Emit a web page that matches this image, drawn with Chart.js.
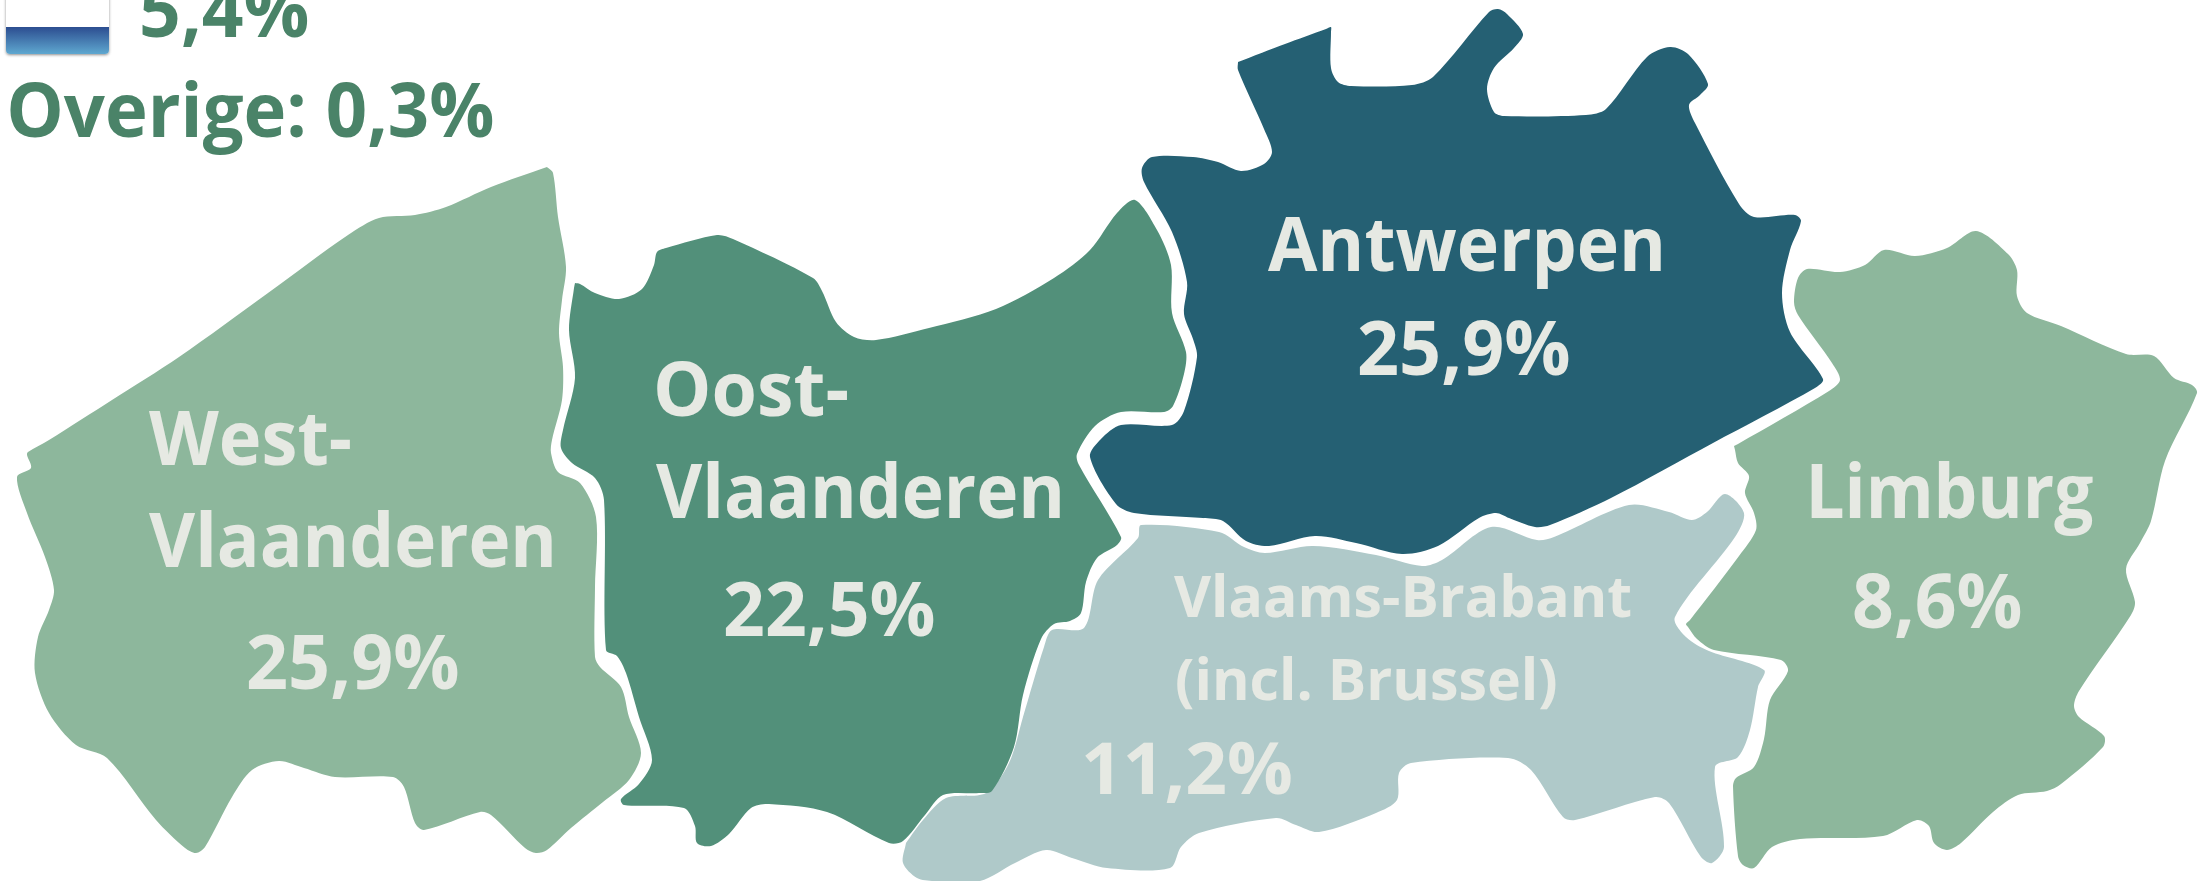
<!DOCTYPE html>
<html lang="nl">
<head>
    <meta charset="UTF-8">
    <title>Vlaamse provincies</title>
    <script src="https://cdn.jsdelivr.net/npm/chart.js"></script>
    <style>
        html, body { margin: 0; padding: 0; background: #fff; }
        canvas { display: block; }
    </style>
</head>
<body>
    <canvas id="mapChart" width="2211" height="881"></canvas>

    <script>
        const westVlaanderen = [[547,167],[553,173],[558,217],[566,267],[562,300],[559,333],[563,367],[562,400],[552,440],[551,453],[558,472],[580,483],[596,517],[595,587],[595,657],[600,667],[621,687],[629,717],[641,753],[629,780],[603,802],[571,828],[547,850],[536,853],[525,848],[491,815],[480,812],[424,830],[415,823],[404,787],[393,777],[335,777],[304,768],[279,761],[252,770],[232,797],[205,847],[196,853],[185,848],[156,820],[107,758],[76,745],[49,713],[35,673],[38,637],[49,610],[54,590],[45,557],[27,513],[17,477],[31,468],[27,455],[28,452],[49,440],[112,400],[179,357],[268,293],[348,235],[379,218],[415,215],[446,207],[491,187],[547,167]];
        const oostVlaanderen = [[575,283],[580,284],[595,293],[619,299],[642,289],[654,265],[657,252],[666,248],[717,235],[733,239],[813,278],[822,291],[836,322],[854,337],[876,340],[929,328],[996,309],[1054,278],[1090,250],[1117,213],[1135,200],[1157,230],[1171,265],[1172,313],[1186,352],[1184,374],[1173,406],[1164,412],[1121,412],[1095,426],[1077,454],[1079,465],[1121,537],[1117,545],[1097,558],[1086,582],[1081,613],[1070,621],[1054,624],[1041,639],[1023,695],[1014,747],[992,791],[979,793],[943,795],[925,815],[903,841],[889,843],[827,812],[769,804],[751,808],[729,834],[711,846],[697,843],[695,826],[684,808],[624,805],[621,799],[639,784],[652,760],[639,717],[626,673],[617,656],[606,650],[604,500],[595,478],[572,463],[561,448],[563,430],[575,378],[569,330],[574,288],[575,283]];
        const antwerpen = [[1238,62],[1285,44],[1326,29],[1331,27],[1331,32],[1331,68],[1338,82],[1351,86],[1412,85],[1433,77],[1489,12],[1498,9],[1507,14],[1523,34],[1514,48],[1494,68],[1487,89],[1494,112],[1504,116],[1586,115],[1606,109],[1647,57],[1670,47],[1688,54],[1708,84],[1700,95],[1689,105],[1695,123],[1739,204],[1754,217],[1795,215],[1801,221],[1790,250],[1782,293],[1790,332],[1823,379],[1815,388],[1713,443],[1611,498],[1550,525],[1535,527],[1509,518],[1496,513],[1479,518],[1438,546],[1402,554],[1356,543],[1315,536],[1269,546],[1246,541],[1223,521],[1203,518],[1134,513],[1116,504],[1090,457],[1101,439],[1121,425],[1172,425],[1184,411],[1197,357],[1193,339],[1184,314],[1187,282],[1172,232],[1144,182],[1142,168],[1152,157],[1193,157],[1218,162],[1241,171],[1264,164],[1272,152],[1264,129],[1238,70],[1238,62]];
        const vlaamsBrabant = [[906,843],[923,820],[946,798],[986,793],[1009,763],[1023,717],[1044,647],[1052,630],[1084,628],[1098,580],[1138,538],[1141,525],[1219,532],[1244,547],[1265,553],[1313,546],[1376,555],[1422,566],[1442,560],[1491,527],[1537,540],[1554,537],[1629,505],[1669,512],[1692,520],[1707,512],[1725,494],[1744,513],[1735,537],[1675,617],[1686,637],[1709,651],[1764,670],[1758,687],[1750,730],[1738,757],[1715,767],[1724,847],[1712,863],[1701,857],[1669,803],[1655,797],[1575,820],[1563,817],[1531,770],[1508,758],[1411,763],[1399,773],[1397,800],[1376,813],[1319,832],[1296,825],[1276,818],[1199,833],[1181,847],[1170,868],[1107,868],[1072,858],[1046,850],[1015,863],[980,881],[934,881],[917,878],[903,863],[906,843]];
        const limburg = [[1734,446],[1738,444],[1829,391],[1840,380],[1832,363],[1798,315],[1794,302],[1798,278],[1807,269],[1840,272],[1865,265],[1884,250],[1915,256],[1947,248],[1976,231],[2008,254],[2017,270],[2017,296],[2027,313],[2061,326],[2126,354],[2154,356],[2174,378],[2192,385],[2197,393],[2165,461],[2151,521],[2140,543],[2126,569],[2135,602],[2131,615],[2079,691],[2074,706],[2079,717],[2104,736],[2103,747],[2061,784],[2047,791],[2018,795],[1993,812],[1961,843],[1947,850],[1934,843],[1929,826],[1917,820],[1883,836],[1800,839],[1772,847],[1754,868],[1743,865],[1738,856],[1733,786],[1736,778],[1754,767],[1764,739],[1770,700],[1788,671],[1781,660],[1714,650],[1697,639],[1688,627],[1686,624],[1690,620],[1739,556],[1756,530],[1754,513],[1745,493],[1749,476],[1738,463],[1735,450],[1734,446]];

        const regionNames = ['West-Vlaanderen', 'Oost-Vlaanderen', 'Antwerpen', 'Vlaams-Brabant', 'Limburg'];
        const regionColors = ['#8db79c', '#52907a', '#256073', '#afc9c9', '#8db79c'];
        const outlines = [westVlaanderen, oostVlaanderen, antwerpen, vlaamsBrabant, limburg];

        const textColor = '#e6e9e3';
        const greenText = '#4a8368';

        // text, left, baseline, ink width on the page, font size, colour
        const labels = [
            ['5,4%', 142, 37, 166, 76, greenText],
            ['Overige: 0,3%', 10, 137, 483, 76, greenText],
            ['West-', 149, 465, 201, 75, textColor],
            ['Vlaanderen', 149, 567, 403, 75, textColor],
            ['25,9%', 248, 689, 210, 75, textColor],
            ['Oost-', 657, 416, 190, 75, textColor],
            ['Vlaanderen', 656, 518, 404, 75, textColor],
            ['22,5%', 725, 636, 209, 75, textColor],
            ['Antwerpen', 1268, 271, 393, 75, textColor],
            ['25,9%', 1359, 375, 210, 75, textColor],
            ['Vlaams-Brabant', 1174, 617, 457, 58, textColor],
            ['(incl. Brussel)', 1177, 700, 379, 58, textColor],
            ['11,2%', 1085, 794, 206, 72, textColor],
            ['Limburg', 1811, 518, 282, 75, textColor],
            ['8,6%', 1854, 628, 167, 75, textColor]
        ];

        const mapLabels = {
            id: 'mapLabels',
            afterDatasetsDraw(chart) {
                const ctx = chart.ctx;
                const x = chart.scales.x;
                const y = chart.scales.y;

                // flag in the corner, cut off by the top of the page
                const left = x.getPixelForValue(6);
                const right = x.getPixelForValue(109);
                const top = y.getPixelForValue(-10);
                const bandTop = y.getPixelForValue(27);
                const bottom = y.getPixelForValue(54);
                ctx.save();
                ctx.shadowColor = 'rgba(0,0,0,0.45)';
                ctx.shadowBlur = 3;
                ctx.shadowOffsetY = 1;
                ctx.fillStyle = '#fff';
                ctx.beginPath();
                ctx.roundRect(left, top, right - left, bottom - top, 4);
                ctx.fill();
                ctx.restore();
                ctx.save();
                const grad = ctx.createLinearGradient(0, bandTop, 0, bottom);
                grad.addColorStop(0, '#2c4d90');
                grad.addColorStop(1, '#5fa8d0');
                ctx.fillStyle = grad;
                ctx.beginPath();
                ctx.roundRect(left, bandTop, right - left, bottom - bandTop, [0, 0, 4, 4]);
                ctx.fill();
                ctx.restore();

                labels.forEach(([text, lx, ly, width, size, color]) => {
                    ctx.save();
                    ctx.font = 'bold ' + size + 'px "Open Sans"';
                    ctx.fillStyle = color;
                    ctx.textBaseline = 'alphabetic';
                    const m = ctx.measureText(text);
                    const ink = m.actualBoundingBoxLeft + m.actualBoundingBoxRight;
                    const sx = width / ink;
                    ctx.translate(x.getPixelForValue(lx) + m.actualBoundingBoxLeft * sx, y.getPixelForValue(ly));
                    ctx.scale(sx, 1);
                    ctx.fillText(text, 0, 0);
                    ctx.restore();
                });
            }
        };

        new Chart(document.getElementById('mapChart'), {
            type: 'scatter',
            data: {
                datasets: outlines.map((outline, i) => ({
                    label: regionNames[i],
                    data: outline.map(p => ({ x: p[0], y: p[1] })),
                    showLine: true,
                    fill: 'shape',
                    backgroundColor: regionColors[i],
                    borderColor: regionColors[i],
                    borderWidth: 0,
                    pointRadius: 0,
                    tension: 0.3,
                    clip: false
                }))
            },
            options: {
                responsive: false,
                animation: false,
                layout: { padding: 0 },
                plugins: { legend: { display: false }, tooltip: { enabled: false } },
                scales: {
                    x: { type: 'linear', display: false, min: 0, max: 2211 },
                    y: { type: 'linear', display: false, min: 0, max: 881, reverse: true }
                }
            },
            plugins: [mapLabels]
        });
    </script>
</body>
</html>
